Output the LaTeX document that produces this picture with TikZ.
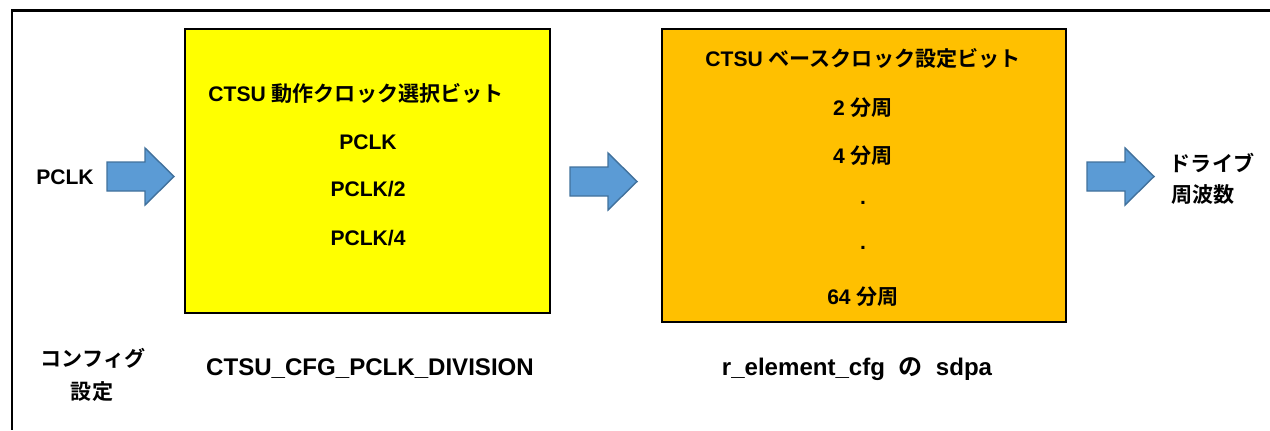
\documentclass[tikz,border=0pt]{standalone}
\usepackage{fontspec}
\setmainfont{Liberation Sans}
\newfontfamily\jp{Noto Sans CJK JP}[BoldFont={Noto Sans CJK JP Bold}]
\usetikzlibrary{positioning}
\definecolor{boxyellow}{HTML}{FFFF00}
\definecolor{boxorange}{HTML}{FFC000}
\definecolor{arrowfill}{HTML}{5B9BD5}
\definecolor{arrowedge}{HTML}{41719C}
\tikzset{
  txt/.style={font=\bfseries\fontsize{12}{14}\selectfont, inner sep=1pt},
  cfgtxt/.style={font=\bfseries\fontsize{13.7}{16}\selectfont, inner sep=1pt},
  regbox/.style={draw=black, line width=1.4pt},
  fatarrow/.style={fill=arrowfill, draw=arrowedge, line width=0.8pt, line join=miter}
}
\newcommand{\fatarrow}[2]{\draw[fatarrow] (#1,#2) ++(0,-14.5) -- ++(38,0) -- ++(0,-14) -- ++(29,28.5) -- ++(-29,28.5) -- ++(0,-14) -- ++(-38,0) -- cycle;}

\begin{document}
\begin{tikzpicture}[x=0.02cm,y=-0.02cm]
\useasboundingbox (0,0) rectangle (1270,430);

% outer frame
\draw[line width=1.2pt] (1270,10.5) -- (12,10.5) -- (12,430);

% register boxes
\draw[regbox, fill=boxyellow] (185,29) rectangle (550,313);
\draw[regbox, fill=boxorange] (662,29) rectangle (1066,322);

% arrows
\fatarrow{107}{176.5}
\fatarrow{570}{181.5}
\fatarrow{1087}{176.5}

\node[txt] (pclk) at (65,177) {PCLK};

% operating clock select
\node[txt] (opsel) at (356,94) {CTSU {\jp 動作クロック選択ビット}};
\node[txt] (div1) at (368,142) {PCLK};
\node[txt] (div2) at (368,189) {PCLK/2};
\node[txt] (div4) at (368,238) {PCLK/4};

% base clock setting
\node[txt] (basesel) at (863,58) {CTSU {\jp ベースクロック設定ビット}};
\node[txt] (sdpa2) at (863,108) {2 {\jp 分周}};
\node[txt] (sdpa4) at (863,156) {4 {\jp 分周}};
\node[txt] (dot1) at (863,203) {.};
\node[txt] (dot2) at (863,248) {.};
\node[txt] (sdpa64) at (863,297) {64 {\jp 分周}};

% output
\node[txt] (drv) at (1212,163) {\jp ドライブ};
\node[txt] (freq) at (1203,195) {\jp 周波数};

% config settings
\node[txt] (cfg1) at (93,358) {\jp コンフィグ};
\node[txt] (cfg2) at (92,392) {\jp 設定};
\node[cfgtxt] (cfgdiv) at (370,369) {CTSU\_CFG\_PCLK\_DIVISION};
\node[cfgtxt] (cfgsdpa) at (857,369) {r\_element\_cfg\ \ {\jp の}\ \ sdpa};
\end{tikzpicture}
\end{document}
